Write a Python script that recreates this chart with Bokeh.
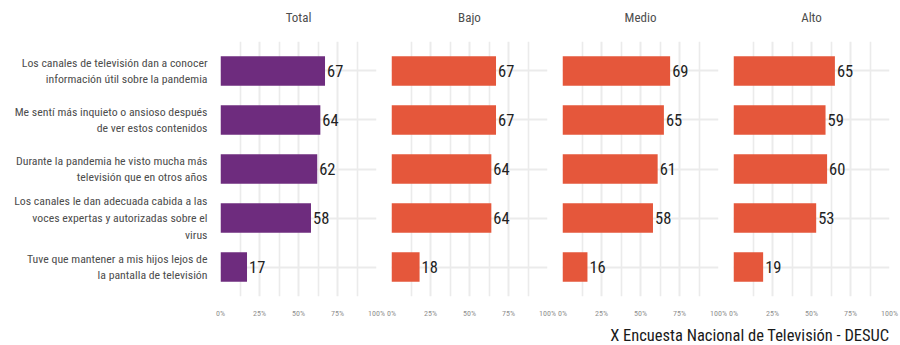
from bokeh.plotting import figure
from bokeh.models import (FactorRange, Range1d, FixedTicker, PrintfTickFormatter,
                          ColumnDataSource, Label)
from bokeh.layouts import row, column
from bokeh.embed import file_html
from bokeh.resources import INLINE
from bokeh.core.properties import value

# ---------------- data ----------------
categories = [
    "Los canales de televisión dan a conocer información útil sobre la pandemia",
    "Me sentí más inquieto o ansioso después de ver estos contenidos",
    "Durante la pandemia he visto mucha más televisión que en otros años",
    "Los canales le dan adecuada cabida a las voces expertas y autorizadas sobre el virus",
    "Tuve que mantener a mis hijos lejos de la pantalla de televisión",
]
category_labels = [
    "Los canales de televisión dan a conocer\ninformación útil sobre la pandemia",
    "Me sentí más inquieto o ansioso después\nde ver estos contenidos",
    "Durante la pandemia he visto mucha más\ntelevisión que en otros años",
    "Los canales le dan adecuada cabida a las\nvoces expertas y autorizadas sobre el\nvirus",
    "Tuve que mantener a mis hijos lejos de\nla pantalla de televisión",
]
panels = ["Total", "Bajo", "Medio", "Alto"]
total = [67, 64, 62, 58, 17]
bajo = [67, 67, 64, 64, 18]
medio = [69, 65, 61, 58, 16]
alto = [65, 59, 60, 53, 19]
panel_values = [total, bajo, medio, alto]
panel_colors = ["#6E2C7E", "#E5573B", "#E5573B", "#E5573B"]
x_ticks = [0, 25, 50, 75, 100]
x_minor = [12.5, 37.5, 62.5, 87.5]
caption = "X Encuesta Nacional de Televisión - DESUC"

FONT = "Roboto Condensed, Liberation Sans Narrow, Roboto"

# ---------------- layout numbers ----------------
FRAME_W = 156
FRAME_H = 256
STRIP_H = 30      # facet-title strip
TOP = 11
BOTTOM = 23
CAP_H = 25
LABEL_W = 214
borders = [(6, 9), (6, 9), (6, 9), (6, 11)]
TOTAL_W = 900

yr = FactorRange(factors=list(reversed(categories)),
                 range_padding=0.1, range_padding_units="absolute")
ROW_H = TOP + FRAME_H + BOTTOM

# category label strip (left)
lab = figure(width=LABEL_W, height=ROW_H,
             x_range=Range1d(0, 1), y_range=yr,
             output_backend="svg", toolbar_location=None,
             min_border_left=0, min_border_right=0,
             min_border_top=TOP, min_border_bottom=BOTTOM,
             outline_line_color=None)
lab.axis.visible = False
lab.grid.visible = False
lsrc = ColumnDataSource(dict(cat=categories, lab=category_labels,
                             x=[1] * len(categories)))
lab.text(x="x", y="cat", text="lab", source=lsrc, x_offset=-7,
         text_align="right", text_baseline="middle",
         text_font=value(FONT), text_font_size="11.8px", text_color="#4D4D4D",
         text_line_height=1.2)

# facet title strip (top)
strip = figure(width=TOTAL_W, height=STRIP_H, output_backend="svg",
               toolbar_location=None, x_range=Range1d(0, 1),
               y_range=Range1d(0, 1), min_border=0, outline_line_color=None)
strip.axis.visible = False
strip.grid.visible = False

figs = [lab]
x_left = LABEL_W
for i, (name, vals, col) in enumerate(zip(panels, panel_values, panel_colors)):
    bl, br = borders[i]
    p = figure(width=bl + FRAME_W + br, height=ROW_H,
               x_range=Range1d(0, 100), y_range=yr,
               output_backend="svg", toolbar_location=None,
               min_border_left=bl, min_border_right=br,
               min_border_top=TOP, min_border_bottom=BOTTOM,
               outline_line_color=None, background_fill_color="white",
               border_fill_color="white")

    strip.add_layout(Label(x=x_left + bl + FRAME_W / 2, y=STRIP_H - 16.5,
                           x_units="screen", y_units="screen", text=name,
                           text_align="center", text_baseline="middle",
                           text_font=FONT, text_font_size="13px",
                           text_color="#4D4D4D"))
    x_left += bl + FRAME_W + br

    src = ColumnDataSource(dict(cat=categories, val=vals,
                                lab=[str(v) for v in vals]))
    p.hbar(y="cat", right="val", left=0, height=0.6, source=src,
           fill_color=col, line_color=None)
    p.text(x="val", y="cat", text="lab", source=src, x_offset=2,
           text_align="left", text_baseline="middle",
           text_font=value(FONT), text_font_size="16.5px", text_color="#222222")

    p.xaxis.ticker = FixedTicker(ticks=x_ticks, minor_ticks=x_minor)
    p.xaxis.formatter = PrintfTickFormatter(format="%d%%")
    p.xaxis.axis_line_color = None
    p.xaxis.major_tick_line_color = None
    p.xaxis.minor_tick_line_color = None
    p.xaxis.major_label_text_font = FONT
    p.xaxis.major_label_text_font_size = "8px"
    p.xaxis.major_label_text_color = "#8F8F8F"
    p.xaxis.major_label_standoff = 6
    p.yaxis.visible = False

    p.xgrid.grid_line_color = "#EBEBEB"
    p.xgrid.grid_line_width = 2.0
    p.xgrid.minor_grid_line_color = "#EBEBEB"
    p.xgrid.minor_grid_line_width = 1.6
    p.ygrid.grid_line_color = "#EBEBEB"
    p.ygrid.grid_line_width = 2.0
    figs.append(p)

# caption strip
cap = figure(width=TOTAL_W, height=CAP_H, output_backend="svg",
             toolbar_location=None, x_range=Range1d(0, 1),
             y_range=Range1d(0, 1), min_border=0, outline_line_color=None)
cap.axis.visible = False
cap.grid.visible = False
cap.add_layout(Label(x=889, y=1, x_units="screen", y_units="screen",
                     text=caption, text_align="right", text_baseline="bottom",
                     text_font=FONT, text_font_size="16.5px",
                     text_color="#1A1A1A"))

layout = column(strip, row(*figs, spacing=0), cap, spacing=0)

open("out.html", "w").write(file_html(layout, INLINE))
